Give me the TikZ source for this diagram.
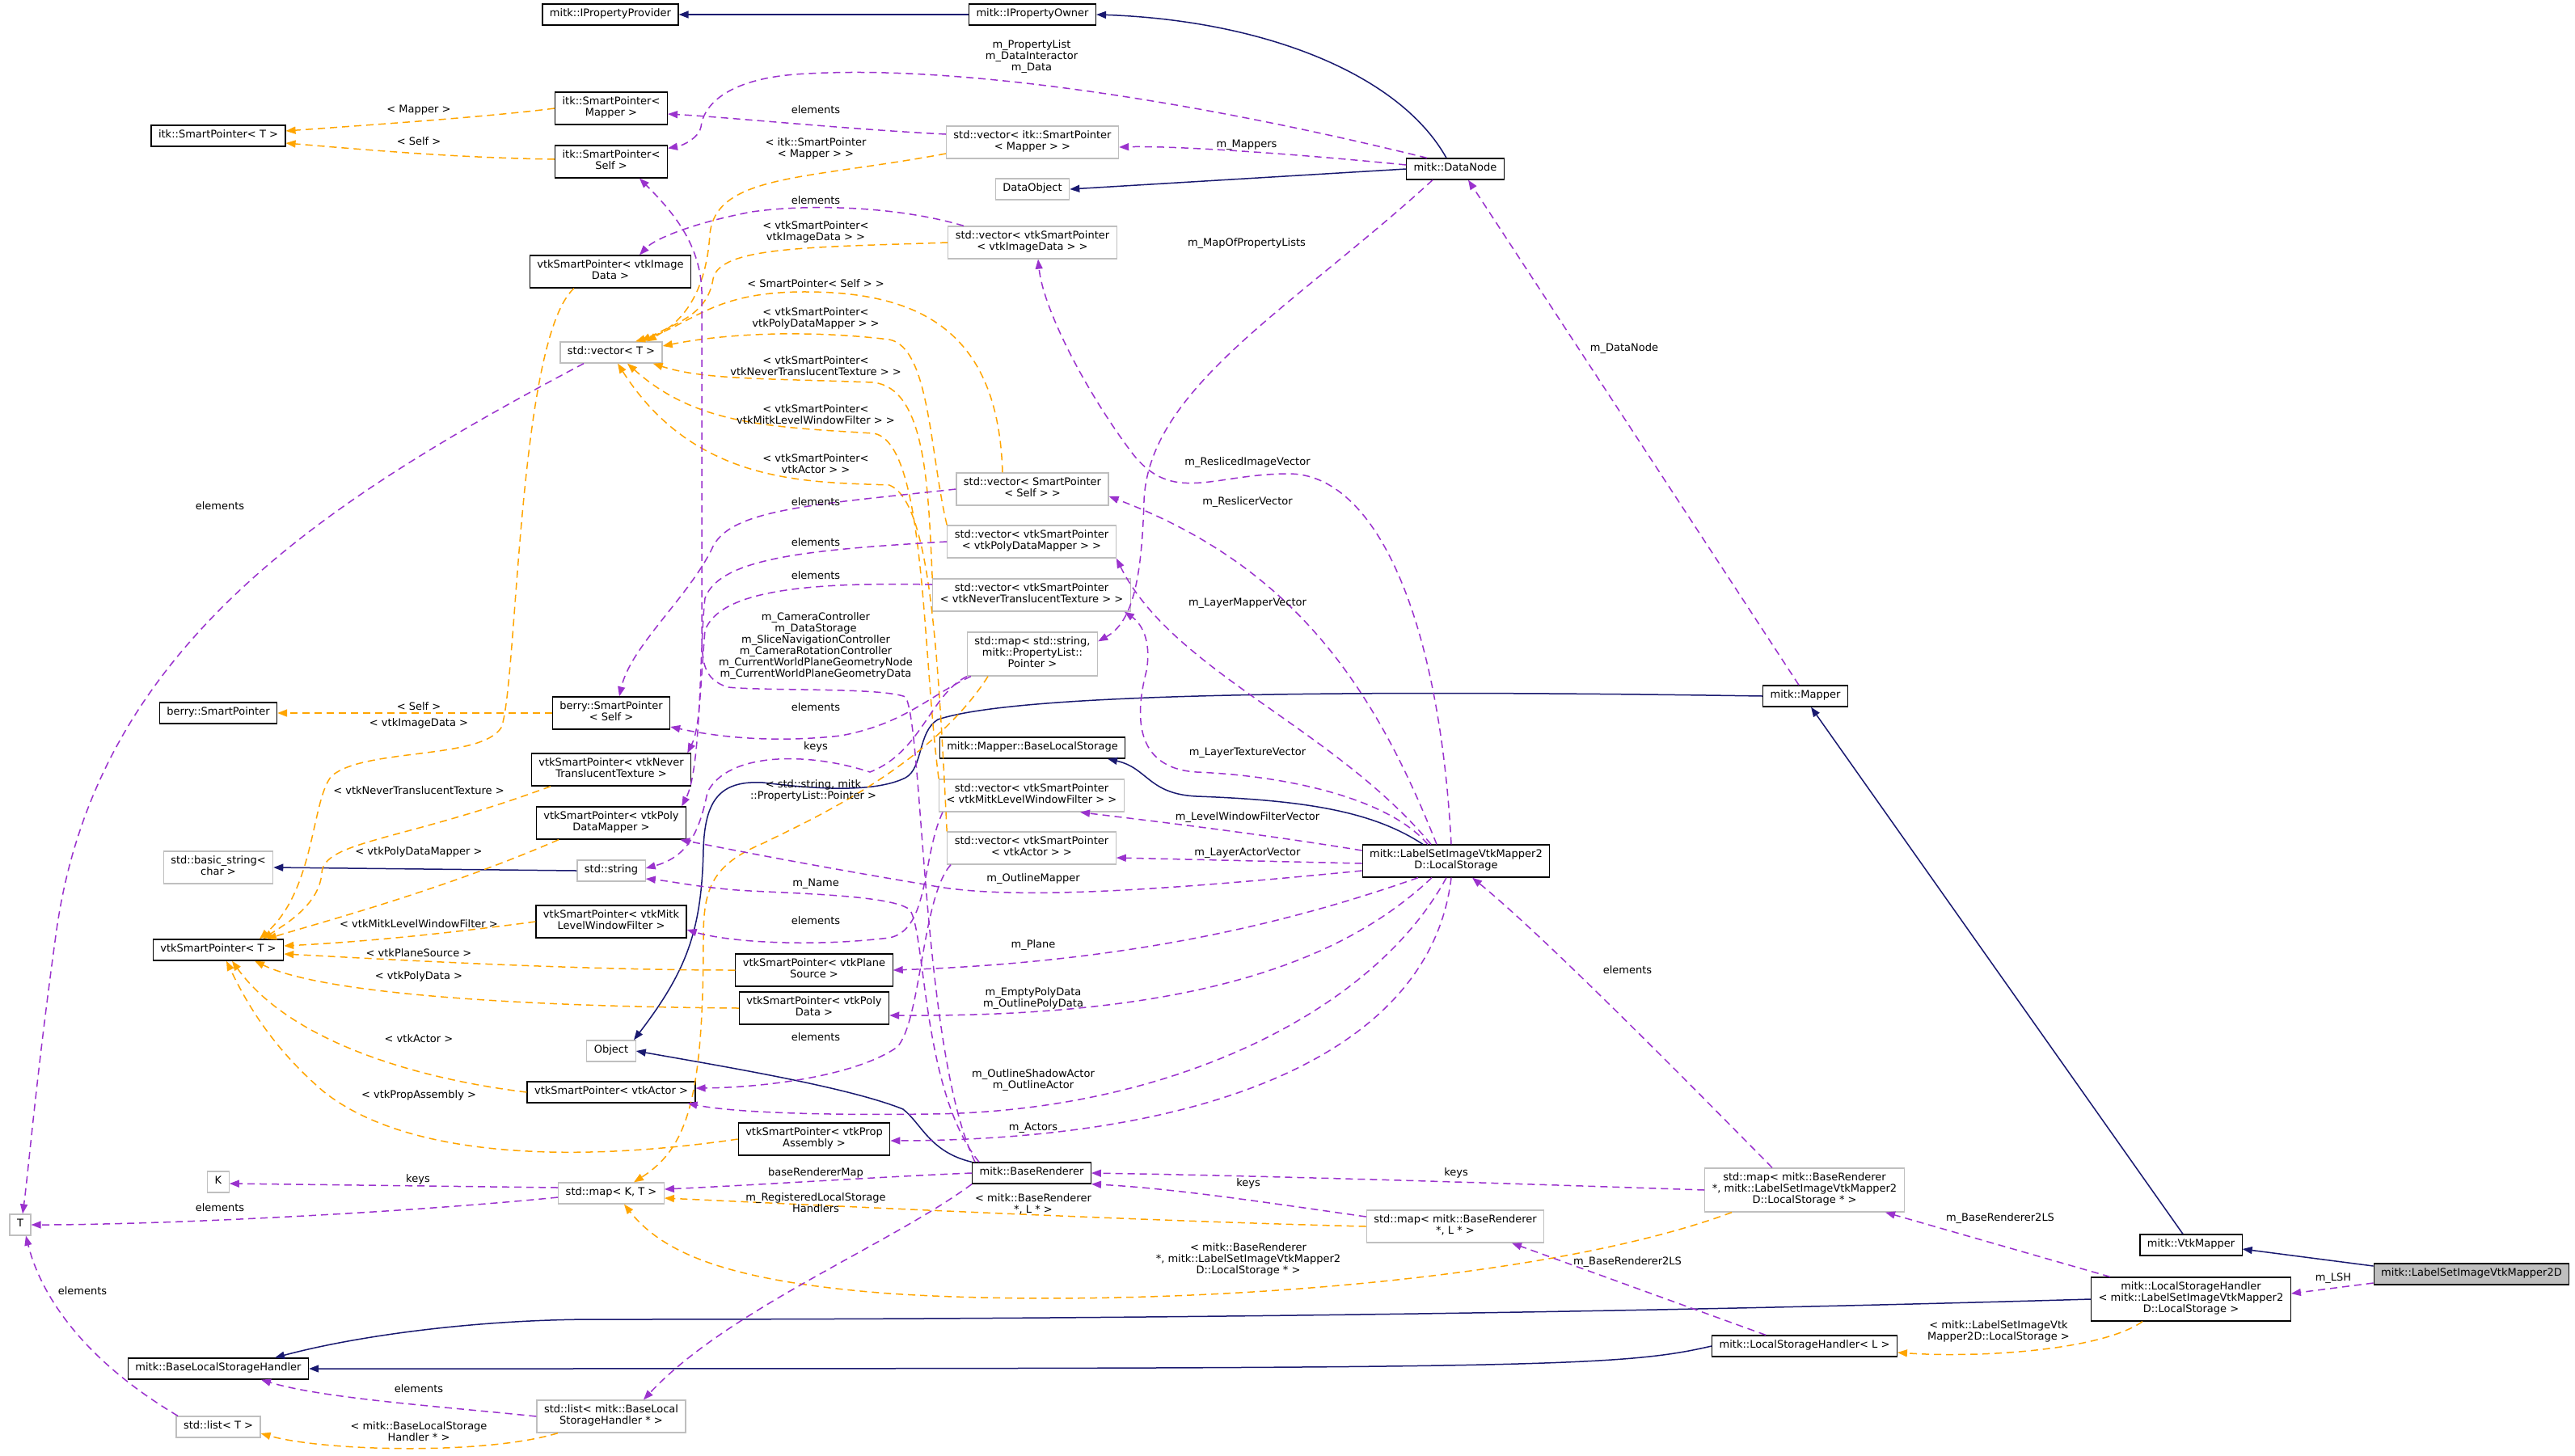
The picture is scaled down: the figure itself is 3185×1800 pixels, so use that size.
\documentclass[tikz,border=0pt]{standalone}
\usepackage{fontspec}
\setmainfont{DejaVu Sans}
\usepackage{tikz}
\usetikzlibrary{arrows.meta}
\definecolor{edgeblue}{RGB}{25,25,112}
\definecolor{edgepurple}{RGB}{154,50,205}
\definecolor{edgeorange}{RGB}{255,165,0}
\definecolor{boxgrey}{RGB}{191,191,191}

\begin{document}
\begin{tikzpicture}[x=1pt,y=-1pt,>={Triangle[length=12pt,width=9pt]},
    clsbox/.style={draw=black,fill=white,line width=1.2pt,align=center,inner xsep=9pt,inner ysep=6pt,
      font=\fontsize{13}{14}\selectfont,execute at begin node=\strut,execute at end node=\strut},
    extbox/.style={clsbox,draw=boxgrey},
    rootbox/.style={clsbox,fill=boxgrey},
    lbl/.style={align=center,inner sep=0pt,font=\fontsize{13}{14}\selectfont},
    inhline/.style={->,draw=edgeblue,line width=1.5pt},
    useline/.style={->,draw=edgepurple,line width=1.5pt,dash pattern=on 9pt off 6pt},
    tmplline/.style={->,draw=edgeorange,line width=1.5pt,dash pattern=on 9pt off 6pt}]
    \fill[white] (0,0) rectangle (3185,1800);
    \useasboundingbox (0,0) rectangle (3185,1800);

    \node[clsbox] (ipp) at (755,18) {mitk::IPropertyProvider};
    \node[clsbox] (ipo) at (1277,18) {mitk::IPropertyOwner};
    \node[clsbox] (itkspT) at (270,168) {itk::SmartPointer< T >};
    \node[clsbox] (itkspMapper) at (756,134) {itk::SmartPointer<\\Mapper >};
    \node[clsbox] (itkspSelf) at (756,200) {itk::SmartPointer<\\Self >};
    \node[extbox] (vecItkMapper) at (1277,176) {std::vector< itk::SmartPointer\\< Mapper > >};
    \node[extbox] (dataObject) at (1277,234) {DataObject};
    \node[clsbox] (dataNode) at (1800,209) {mitk::DataNode};
    \node[extbox] (vecImage) at (1277,300) {std::vector< vtkSmartPointer\\< vtkImageData > >};
    \node[clsbox] (vtkspImage) at (755,336) {vtkSmartPointer< vtkImage\\Data >};
    \node[extbox] (vecT) at (756,436) {std::vector< T >};
    \node[extbox] (vecSelf) at (1277,605) {std::vector< SmartPointer\\< Self > >};
    \node[extbox] (vecPolyMapper) at (1276,670) {std::vector< vtkSmartPointer\\< vtkPolyDataMapper > >};
    \node[extbox] (vecTexture) at (1276,736) {std::vector< vtkSmartPointer\\< vtkNeverTranslucentTexture > >};
    \node[extbox] (mapProps) at (1277,809) {std::map< std::string,\\mitk::PropertyList::\\Pointer >};
    \node[clsbox] (berrySelf) at (756,882) {berry::SmartPointer\\< Self >};
    \node[clsbox] (berrySP) at (270,882) {berry::SmartPointer};
    \node[clsbox] (vtkspTexture) at (756,952) {vtkSmartPointer< vtkNever\\TranslucentTexture >};
    \node[clsbox] (baseLocal) at (1277,925) {mitk::Mapper::BaseLocalStorage};
    \node[clsbox] (mapper) at (2233,861) {mitk::Mapper};
    \node[extbox] (vecFilter) at (1276,984) {std::vector< vtkSmartPointer\\< vtkMitkLevelWindowFilter > >};
    \node[clsbox] (vtkspPolyMapper) at (756,1018) {vtkSmartPointer< vtkPoly\\DataMapper >};
    \node[extbox] (vecActor) at (1276,1049) {std::vector< vtkSmartPointer\\< vtkActor > >};
    \node[clsbox] (localStorage) at (1801,1065) {mitk::LabelSetImageVtkMapper2\\D::LocalStorage};
    \node[extbox] (basicString) at (270,1073) {std::basic\_string<\\char >};
    \node[extbox] (stdString) at (756,1077) {std::string};
    \node[clsbox] (vtkspFilter) at (756,1140) {vtkSmartPointer< vtkMitk\\LevelWindowFilter >};
    \node[clsbox] (vtkspT) at (270,1175) {vtkSmartPointer< T >};
    \node[clsbox] (vtkspPlane) at (1007,1200) {vtkSmartPointer< vtkPlane\\Source >};
    \node[clsbox] (vtkspPoly) at (1007,1247) {vtkSmartPointer< vtkPoly\\Data >};
    \node[extbox] (object) at (756,1300) {Object};
    \node[clsbox] (vtkspActor) at (756,1351) {vtkSmartPointer< vtkActor >};
    \node[clsbox] (vtkspAssembly) at (1007,1409) {vtkSmartPointer< vtkProp\\Assembly >};
    \node[extbox] (keyK) at (270,1462) {K};
    \node[extbox] (mapKT) at (756,1476) {std::map< K, T >};
    \node[extbox] (nodeT) at (25,1515) {T};
    \node[clsbox] (renderer) at (1276,1451) {mitk::BaseRenderer};
    \node[extbox] (mapRendererL) at (1800,1517) {std::map< mitk::BaseRenderer\\*, L * >};
    \node[extbox] (mapRendererLS) at (2232,1472) {std::map< mitk::BaseRenderer\\*, mitk::LabelSetImageVtkMapper2\\D::LocalStorage * >};
    \node[clsbox] (vtkMapper) at (2710,1540) {mitk::VtkMapper};
    \node[rootbox] (root) at (3057,1576) {mitk::LabelSetImageVtkMapper2D};
    \node[clsbox] (lshLS) at (2710,1607) {mitk::LocalStorageHandler\\< mitk::LabelSetImageVtkMapper2\\D::LocalStorage >};
    \node[clsbox] (lshL) at (2232,1665) {mitk::LocalStorageHandler< L >};
    \node[clsbox] (blsh) at (270,1693) {mitk::BaseLocalStorageHandler};
    \node[extbox] (listBlsh) at (756,1752) {std::list< mitk::BaseLocal\\StorageHandler * >};
    \node[extbox] (listT) at (270,1765) {std::list< T >};

    \draw[inhline] (ipo.west) -- (ipp.east);
    \draw[inhline] ([xshift=-11pt]dataNode.north) .. controls (1730,90) and (1560,25) .. (ipo.east);
    \draw[inhline] (dataNode.west) -- (dataObject.east);
    \draw[inhline] (stdString.west) -- (basicString.east);
    \draw[inhline] (mapper.west) .. controls (1600,852) and (1250,860) .. (1160,890) .. controls (1135,905) and (1142,950) .. (1120,962) .. controls (1080,982) and (1000,975) .. (944,968) .. controls (890,965) and (872,990) .. (870,1050) .. controls (868,1150) and (850,1200) .. ([xshift=28pt]object.north);
    \draw[inhline] ([xshift=-41pt]localStorage.north) .. controls (1700,1005) and (1620,990) .. (1480,985) .. controls (1420,982) and (1420,950) .. ([xshift=93pt]baseLocal.south);
    \draw[inhline] (renderer.north west) .. controls (1150,1425) and (1140,1390) .. (1117,1372) .. controls (1050,1345) and (900,1320) .. (object.east);
    \draw[inhline] ([xshift=-10pt]vtkMapper.north) -- ([xshift=7pt]mapper.south);
    \draw[inhline] ([yshift=10pt]root.west) -- ([yshift=-5pt]vtkMapper.east);
    \draw[inhline] (lshLS.west) .. controls (1800,1630) and (1100,1632) .. (737,1632) .. controls (600,1632) and (450,1650) .. ([xshift=70pt]blsh.north);
    \draw[inhline] (lshL.west) .. controls (2000,1692) and (1900,1693) .. (blsh.east);

    \draw[tmplline] (itkspMapper.west) .. controls (600,145) and (450,155) .. ([yshift=6pt]itkspT.east);
    \draw[tmplline] ([yshift=3pt]itkspSelf.west) .. controls (560,195) and (450,185) .. ([yshift=-9pt]itkspT.east);
    \draw[tmplline] (berrySelf.west) -- (berrySP.east);
    \draw[tmplline] ([yshift=-14pt]vecItkMapper.west) .. controls (1000,222) and (885,215) .. (878,290) .. controls (872,380) and (830,405) .. ([xshift=44pt]vecT.north);
    \draw[tmplline] (vecImage.west) .. controls (1000,306) and (890,305) .. (882,345) .. controls (875,390) and (835,400) .. ([xshift=37pt]vecT.north);
    \draw[tmplline] ([xshift=-37pt]vecSelf.north) .. controls (1235,420) and (1150,362) .. (1000,361) .. controls (880,360) and (860,400) .. ([xshift=30pt]vecT.north);
    \draw[tmplline] (vecPolyMapper.north west) .. controls (1150,560) and (1150,430) .. (1100,420) .. controls (1000,408) and (900,412) .. ([yshift=8pt]vecT.east);
    \draw[tmplline] (vecTexture.north west) .. controls (1148,600) and (1145,480) .. (1080,473) .. controls (950,468) and (870,470) .. ([xshift=-12pt]vecT.south east);
    \draw[tmplline] (vecFilter.north west) .. controls (1140,800) and (1145,545) .. (1080,536) .. controls (950,528) and (860,525) .. ([xshift=20pt]vecT.south);
    \draw[tmplline] (vecActor.north west) .. controls (1160,800) and (1150,620) .. (1100,600) .. controls (1000,596) and (860,600) .. ([xshift=8pt]vecT.south);
    \draw[tmplline] ([xshift=-45pt]vtkspImage.south) .. controls (640,420) and (640,850) .. (620,900) .. controls (595,940) and (450,925) .. (410,960) .. controls (385,990) and (390,1100) .. ([xshift=51pt]vtkspT.north);
    \draw[tmplline] ([xshift=-75pt]vtkspTexture.south) .. controls (500,1040) and (400,1040) .. (398,1080) .. controls (395,1120) and (350,1145) .. ([xshift=55pt]vtkspT.north);
    \draw[tmplline] ([xshift=-65pt]vtkspPolyMapper.south) .. controls (550,1100) and (400,1140) .. ([xshift=60pt]vtkspT.north);
    \draw[tmplline] (vtkspFilter.west) .. controls (550,1155) and (450,1165) .. ([yshift=5pt]vtkspT.east);
    \draw[tmplline] (vtkspPlane.west) .. controls (700,1200) and (450,1185) .. ([yshift=-5pt]vtkspT.east);
    \draw[tmplline] (vtkspPoly.west) .. controls (650,1245) and (400,1230) .. ([xshift=45pt]vtkspT.south);
    \draw[tmplline] (vtkspActor.west) .. controls (520,1335) and (360,1290) .. ([xshift=17pt]vtkspT.south);
    \draw[tmplline] (vtkspAssembly.west) .. controls (700,1440) and (500,1430) .. (400,1350) .. controls (330,1290) and (300,1230) .. ([xshift=10pt]vtkspT.south);
    \draw[tmplline] ([xshift=-55pt]mapProps.south) .. controls (1150,950) and (990,1020) .. (944,1043) .. controls (880,1070) and (870,1100) .. (870,1160) .. controls (870,1360) and (850,1420) .. ([xshift=28pt]mapKT.north);
    \draw[tmplline] (mapRendererL.west) .. controls (1400,1510) and (1000,1490) .. ([yshift=-6pt]mapKT.east);
    \draw[tmplline] ([xshift=-90pt]mapRendererLS.south) .. controls (1900,1590) and (1400,1620) .. (1100,1600) .. controls (900,1585) and (820,1550) .. ([xshift=16pt]mapKT.south);
    \draw[tmplline] ([xshift=-66pt]listBlsh.south) .. controls (600,1800) and (400,1795) .. ([yshift=-8pt]listT.east);
    \draw[tmplline] ([xshift=-60pt]lshLS.south) .. controls (2600,1670) and (2450,1680) .. ([yshift=-8pt]lshL.east);

    \draw[useline] ([xshift=-35pt]dataNode.north) .. controls (1500,130) and (1200,80) .. (1000,91) .. controls (900,95) and (870,130) .. (867,157) .. controls (865,170) and (845,180) .. ([yshift=-4pt]itkspSelf.north east);
    \draw[useline] ([yshift=5pt]dataNode.west) .. controls (1600,190) and (1450,180) .. ([yshift=-6pt]vecItkMapper.east);
    \draw[useline] ([xshift=-28pt]dataNode.south) .. controls (1600,380) and (1420,480) .. (1415,620) .. controls (1412,720) and (1400,770) .. ([yshift=-12pt]mapProps.north east);
    \draw[useline] ([yshift=10pt]vecItkMapper.west) .. controls (1050,160) and (900,145) .. ([yshift=-7pt]itkspMapper.east);
    \draw[useline] ([xshift=-85pt]vecImage.north) .. controls (1110,255) and (1000,252) .. (930,262) .. controls (860,275) and (810,295) .. ([xshift=36pt]vtkspImage.north);
    \draw[useline] ([xshift=-34pt]vecT.south) .. controls (400,620) and (120,800) .. (70,1150) .. controls (45,1330) and (35,1450) .. ([xshift=3pt]nodeT.north);
    \draw[useline] (vecSelf.west) .. controls (1000,625) and (900,630) .. (880,680) .. controls (850,740) and (780,800) .. ([xshift=10pt]berrySelf.north);
    \draw[useline] (vecPolyMapper.west) .. controls (1000,680) and (890,690) .. (872,740) .. controls (865,800) and (868,950) .. ([xshift=-6pt]vtkspPolyMapper.north east);
    \draw[useline] ([yshift=13pt]vecTexture.west) .. controls (1000,720) and (890,730) .. (872,780) .. controls (866,850) and (866,900) .. ([xshift=-5pt]vtkspTexture.north east);
    \draw[useline] (mapProps.south west) .. controls (1150,860) and (1140,930) .. (1076,955) .. controls (1000,930) and (900,930) .. (875,980) .. controls (865,1030) and (850,1060) .. ([yshift=3pt]stdString.east);
    \draw[useline] ([xshift=5pt]mapProps.south west) .. controls (1150,860) and (1120,895) .. (1040,910) .. controls (950,920) and (880,910) .. ([yshift=-17pt]berrySelf.east);
    \draw[useline] ([xshift=-70pt]renderer.north) .. controls (1140,1300) and (1142,900) .. (1120,862) .. controls (1090,850) and (950,855) .. (900,850) .. controls (870,840) and (868,820) .. (868,780) -- (868,360) .. controls (866,300) and (830,260) .. ([xshift=35pt]itkspSelf.south);
    \draw[useline] ([xshift=-65pt]renderer.north) .. controls (1140,1350) and (1145,1150) .. (1125,1125) .. controls (1100,1105) and (950,1105) .. (900,1100) .. controls (850,1095) and (830,1090) .. ([yshift=-10pt]stdString.east);
    \draw[useline] (renderer.west) .. controls (1100,1455) and (950,1465) .. ([yshift=5pt]mapKT.east);
    \draw[useline] (renderer.south west) .. controls (1100,1540) and (900,1620) .. ([xshift=40pt]listBlsh.north);
    \draw[useline] ([xshift=-110pt]vecFilter.south) .. controls (1140,1060) and (1150,1150) .. (1100,1160) .. controls (1000,1172) and (900,1165) .. ([yshift=-10pt]vtkspFilter.east);
    \draw[useline] ([xshift=-100pt]vecActor.south) .. controls (1140,1110) and (1140,1260) .. (1110,1295) .. controls (1060,1330) and (950,1345) .. ([yshift=5pt]vtkspActor.east);
    \draw[useline] ([xshift=-6pt]localStorage.north) .. controls (1780,760) and (1700,586) .. (1594,586) .. controls (1500,586) and (1450,625) .. (1400,560) .. controls (1340,480) and (1290,380) .. ([xshift=7pt]vecImage.south);
    \draw[useline] ([xshift=-24pt]localStorage.north) .. controls (1700,850) and (1600,700) .. ([yshift=-9pt]vecSelf.east);
    \draw[useline] ([xshift=-31pt]localStorage.north) .. controls (1650,900) and (1450,830) .. (vecPolyMapper.south east);
    \draw[useline] ([xshift=-35pt]localStorage.north) .. controls (1720,990) and (1600,960) .. (1480,955) .. controls (1400,950) and (1405,880) .. (1418,830) .. controls (1425,790) and (1410,770) .. ([xshift=-8pt]vecTexture.south east);
    \draw[useline] ([yshift=13pt]localStorage.west) .. controls (1550,1030) and (1420,1015) .. ([xshift=60pt]vecFilter.south);
    \draw[useline] ([yshift=-3pt]localStorage.west) -- ([yshift=-12pt]vecActor.east);
    \draw[useline] ([yshift=-12pt]localStorage.west) .. controls (1450,1100) and (1250,1115) .. (1150,1095) .. controls (1000,1070) and (900,1050) .. ([xshift=-8pt]vtkspPolyMapper.south east);
    \draw[useline] ([xshift=-47pt]localStorage.south) .. controls (1600,1140) and (1400,1190) .. (vtkspPlane.east);
    \draw[useline] ([xshift=-30pt]localStorage.south) .. controls (1650,1200) and (1450,1258) .. ([yshift=-9pt]vtkspPoly.east);
    \draw[useline] ([xshift=-12pt]localStorage.south) .. controls (1700,1250) and (1450,1375) .. (1150,1378) .. controls (1000,1380) and (900,1375) .. ([xshift=-10pt]vtkspActor.south east);
    \draw[useline] ([xshift=-6pt]localStorage.south) .. controls (1770,1300) and (1500,1410) .. ([yshift=-2pt]vtkspAssembly.east);
    \draw[useline] ([xshift=-40pt]mapRendererLS.north) .. controls (2050,1300) and (1900,1150) .. ([xshift=20pt]localStorage.south);
    \draw[useline] ([xshift=-8pt]mapper.north) -- ([xshift=16pt]dataNode.south);
    \draw[useline] (mapRendererLS.west) .. controls (1900,1465) and (1600,1455) .. (renderer.east);
    \draw[useline] ([yshift=12pt]mapRendererL.west) .. controls (1550,1485) and (1450,1470) .. (renderer.south east);
    \draw[useline] ([xshift=-100pt]lshLS.north) -- ([xshift=100pt]mapRendererLS.south);
    \draw[useline] ([xshift=-48pt]lshL.north) -- ([xshift=70pt]mapRendererL.south);
    \draw[useline] ([yshift=-11pt]root.west) -- ([yshift=7pt]lshLS.east);
    \draw[useline] (listBlsh.west) .. controls (550,1740) and (400,1730) .. ([xshift=53pt]blsh.south);
    \draw[useline] ([xshift=-50pt]listT.north) .. controls (100,1680) and (50,1600) .. ([xshift=7pt]nodeT.south);
    \draw[useline] ([yshift=7pt]mapKT.west) -- ([yshift=-2pt]keyK.east);
    \draw[useline] ([yshift=-5pt]mapKT.west) .. controls (500,1500) and (200,1515) .. (nodeT.east);

    \node[lbl] (lMapperT) at (518,136) {< Mapper >};
    \node[lbl] (lSelfT) at (518,175) {< Self >};
    \node[lbl] (lElemItk) at (1009,136) {elements};
    \node[lbl] (lItkVecT) at (1009,184) {< itk::SmartPointer\\< Mapper > >};
    \node[lbl] (lProp) at (1276,70) {m\_PropertyList\\m\_DataInteractor\\m\_Data};
    \node[lbl] (lMappers) at (1542,179) {m\_Mappers};
    \node[lbl] (lElemImg) at (1009,248) {elements};
    \node[lbl] (lImgVecT) at (1009,287) {< vtkSmartPointer<\\vtkImageData > >};
    \node[lbl] (lMapProps) at (1542,301) {m\_MapOfPropertyLists};
    \node[lbl] (lSelfVecT) at (1009,351) {< SmartPointer< Self > >};
    \node[lbl] (lDataNode) at (2009,431) {m\_DataNode};
    \node[lbl] (lPolyVecT) at (1009,394) {< vtkSmartPointer<\\vtkPolyDataMapper > >};
    \node[lbl] (lTexVecT) at (1009,453) {< vtkSmartPointer<\\vtkNeverTranslucentTexture > >};
    \node[lbl] (lFilterVecT) at (1009,513) {< vtkSmartPointer<\\vtkMitkLevelWindowFilter > >};
    \node[lbl] (lResliced) at (1543,572) {m\_ReslicedImageVector};
    \node[lbl] (lActorVecT) at (1009,574) {< vtkSmartPointer<\\vtkActor > >};
    \node[lbl] (lElemSelf) at (1009,621) {elements};
    \node[lbl] (lReslicer) at (1543,621) {m\_ReslicerVector};
    \node[lbl] (lElemPoly) at (1009,671) {elements};
    \node[lbl] (lElemTex) at (1009,712) {elements};
    \node[lbl] (lLayerMapper) at (1543,746) {m\_LayerMapperVector};
    \node[lbl] (lCamera) at (1009,799) {m\_CameraController\\m\_DataStorage\\m\_SliceNavigationController\\m\_CameraRotationController\\m\_CurrentWorldPlaneGeometryNode\\m\_CurrentWorldPlaneGeometryData};
    \node[lbl] (lElemProps) at (1009,875) {elements};
    \node[lbl] (lSelfBerry) at (518,874) {< Self >};
    \node[lbl] (lImgT) at (518,895) {< vtkImageData >};
    \node[lbl] (lKeysProps) at (1009,924) {keys};
    \node[lbl] (lLayerTex) at (1543,931) {m\_LayerTextureVector};
    \node[lbl] (lTexT) at (518,978) {< vtkNeverTranslucentTexture >};
    \node[lbl] (lMapPropsT) at (1006,978) {< std::string, mitk\\::PropertyList::Pointer >};
    \node[lbl] (lLevelWin) at (1543,1011) {m\_LevelWindowFilterVector};
    \node[lbl] (lPolyMapperT) at (518,1054) {< vtkPolyDataMapper >};
    \node[lbl] (lLayerActor) at (1543,1055) {m\_LayerActorVector};
    \node[lbl] (lOutlineMapper) at (1278,1087) {m\_OutlineMapper};
    \node[lbl] (lName) at (1009,1093) {m\_Name};
    \node[lbl] (lElemFilter) at (1009,1139) {elements};
    \node[lbl] (lFilterT) at (518,1143) {< vtkMitkLevelWindowFilter >};
    \node[lbl] (lPlane) at (1278,1169) {m\_Plane};
    \node[lbl] (lPlaneT) at (518,1179) {< vtkPlaneSource >};
    \node[lbl] (lElemLS) at (2013,1200) {elements};
    \node[lbl] (lPolyT) at (518,1208) {< vtkPolyData >};
    \node[lbl] (lPolyData) at (1278,1235) {m\_EmptyPolyData\\m\_OutlinePolyData};
    \node[lbl] (lElemActor) at (1009,1283) {elements};
    \node[lbl] (lActorT) at (518,1285) {< vtkActor >};
    \node[lbl] (lOutlineActor) at (1278,1336) {m\_OutlineShadowActor\\m\_OutlineActor};
    \node[lbl] (lAssemblyT) at (518,1355) {< vtkPropAssembly >};
    \node[lbl] (lActors) at (1278,1395) {m\_Actors};
    \node[lbl] (lBRMap) at (1009,1451) {baseRendererMap};
    \node[lbl] (lKeysLS) at (1801,1451) {keys};
    \node[lbl] (lKeysK) at (517,1459) {keys};
    \node[lbl] (lKeysL) at (1544,1464) {keys};
    \node[lbl] (lRegistered) at (1009,1488) {m\_RegisteredLocalStorage\\Handlers};
    \node[lbl] (lMapLT) at (1278,1489) {< mitk::BaseRenderer\\*, L * >};
    \node[lbl] (lElemT) at (272,1494) {elements};
    \node[lbl] (lBR2LS) at (2474,1507) {m\_BaseRenderer2LS};
    \node[lbl] (lMapLST) at (1544,1558) {< mitk::BaseRenderer\\*, mitk::LabelSetImageVtkMapper2\\D::LocalStorage * >};
    \node[lbl] (lBR2L) at (2013,1561) {m\_BaseRenderer2LS};
    \node[lbl] (lLSH) at (2886,1581) {m\_LSH};
    \node[lbl] (lElemList) at (102,1597) {elements};
    \node[lbl] (lLSHT) at (2472,1647) {< mitk::LabelSetImageVtk\\Mapper2D::LocalStorage >};
    \node[lbl] (lElemBlsh) at (518,1718) {elements};
    \node[lbl] (lListT) at (518,1771) {< mitk::BaseLocalStorage\\Handler * >};
    \node[lbl] (lElemVecT) at (272,626) {elements};
\end{tikzpicture}
\end{document}
